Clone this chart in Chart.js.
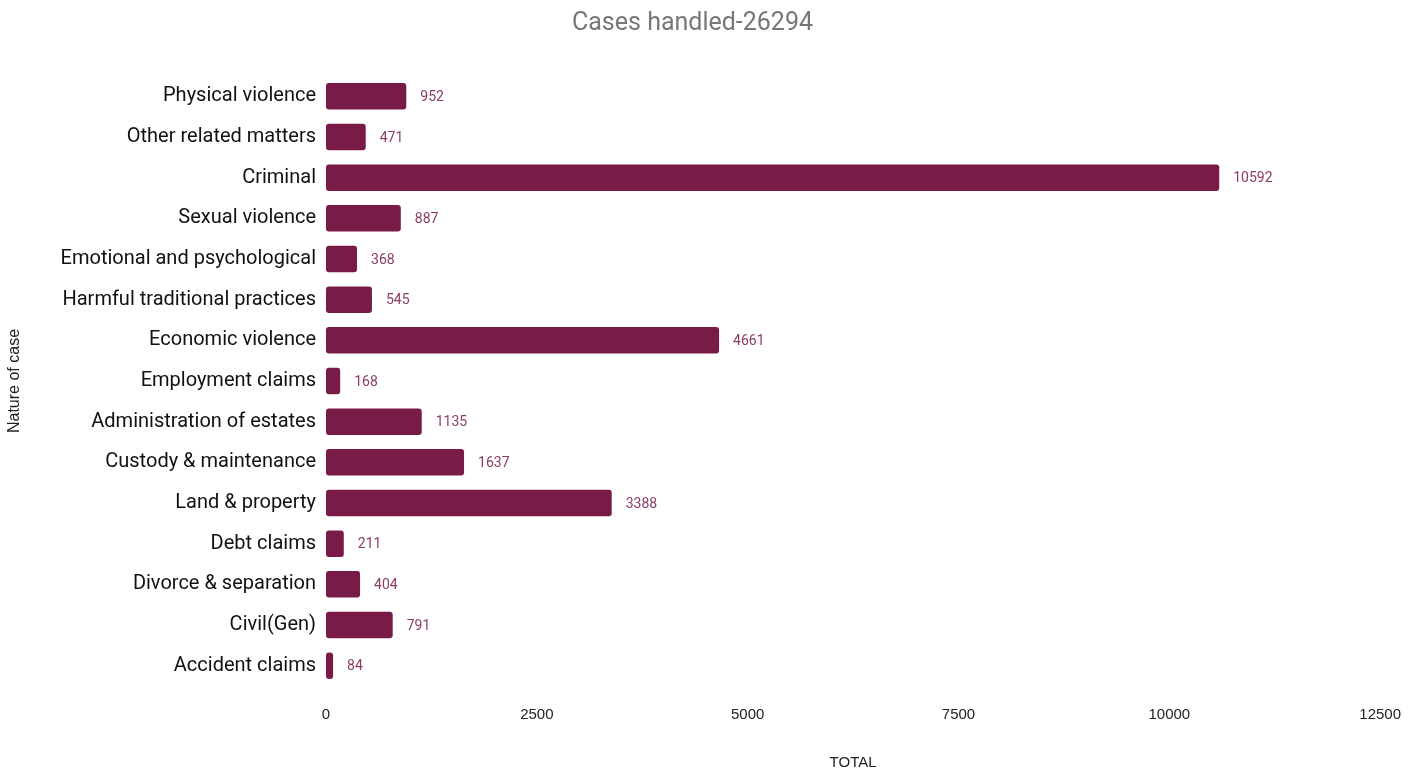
<!DOCTYPE html>
<html>
<head>
<meta charset="utf-8">
<script src="https://cdn.jsdelivr.net/npm/chart.js@4/dist/chart.umd.min.js"></script>
<style>
  html, body { margin: 0; padding: 0; background: #fff; }
  #wrap { width: 1421px; height: 775px; }
</style>
</head>
<body>
<div id="wrap"><canvas id="grafica"></canvas></div>
<script>
// categorias y valores
const categorias = [
  "Physical violence", "Other related matters", "Criminal", "Sexual violence",
  "Emotional and psychological", "Harmful traditional practices", "Economic violence",
  "Employment claims", "Administration of estates", "Custody & maintenance",
  "Land & property", "Debt claims", "Divorce & separation", "Civil(Gen)", "Accident claims"
];
const totales = [952, 471, 10592, 887, 368, 545, 4661, 168, 1135, 1637, 3388, 211, 404, 791, 84];
const ticksX = [0, 2500, 5000, 7500, 10000, 12500];

// etiquetas de valor al final de cada barra
const etiquetas = {
  id: "etiquetas",
  afterDatasetsDraw(chart) {
    const ctx = chart.ctx;
    const meta = chart.getDatasetMeta(0);
    ctx.save();
    ctx.font = "14px Roboto";
    ctx.fillStyle = "#8c3c66";
    ctx.textAlign = "left";
    ctx.textBaseline = "middle";
    meta.data.forEach((bar, i) => {
      ctx.fillText(String(totales[i]), bar.x + 14, bar.y + 1);
    });
    ctx.restore();
  }
};

const ctx = document.getElementById("grafica").getContext("2d");
new Chart(ctx, {
  type: "bar",
  data: {
    labels: categorias,
    datasets: [{
      label: "TOTAL",
      data: totales,
      backgroundColor: "#781b46",
      borderRadius: 3,
      borderSkipped: false,
      barPercentage: 0.65,
      categoryPercentage: 1
    }]
  },
  options: {
    indexAxis: "y",
    responsive: true,
    maintainAspectRatio: false,
    animation: false,
    layout: { padding: { left: 0, right: 36, top: 0, bottom: 0 } },
    plugins: {
      legend: { display: false },
      tooltip: { enabled: false },
      title: {
        display: true,
        text: "Cases handled-26294",
        color: "#777777",
        font: { family: "Roboto", size: 25, weight: "normal" },
        padding: { top: 9, bottom: 37 }
      }
    },
    scales: {
      x: {
        min: 0,
        max: 12500,
        afterBuildTicks(s) { s.ticks = ticksX.map(v => ({ value: v })); },
        afterFit(s) { s.height = 89; },
        grid: { display: false, drawTicks: false },
        border: { display: false },
        ticks: {
          padding: 20,
          color: "#222",
          font: { family: "Liberation Sans", size: 15 },
          callback: v => String(v)
        },
        title: {
          display: true,
          text: "TOTAL",
          color: "#222",
          font: { family: "Liberation Sans", size: 15 },
          padding: { top: 0, bottom: 3 }
        }
      },
      y: {
        afterFit(s) { s.width = 326; },
        grid: { display: false, drawTicks: false },
        border: { display: false },
        ticks: {
          padding: 10,
          color: "#111",
          autoSkip: false,
          font: { family: "Roboto", size: 20 }
        },
        title: {
          display: true,
          text: "Nature of case",
          color: "#222",
          font: { family: "Liberation Sans", size: 16 },
          padding: { top: 5, bottom: 0 }
        }
      }
    }
  },
  plugins: [etiquetas]
});
</script>
</body>
</html>
